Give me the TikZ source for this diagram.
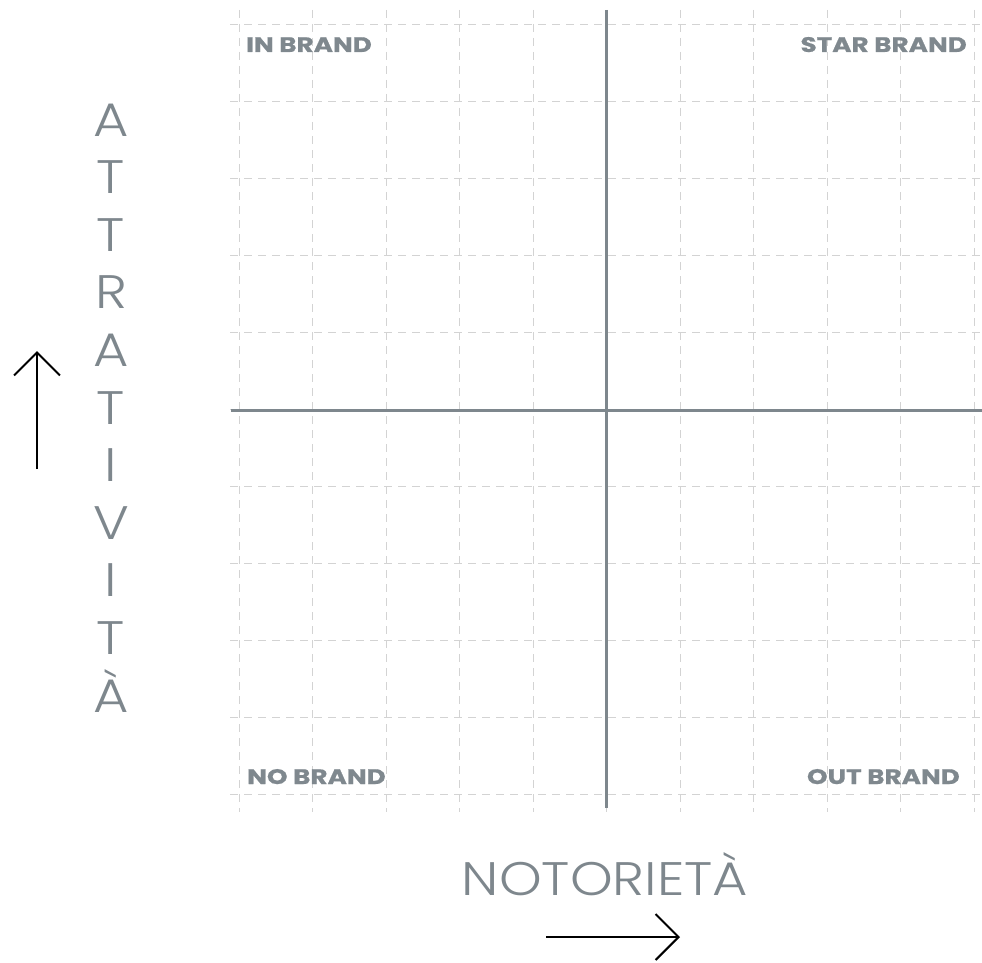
\documentclass[tikz,border=0pt]{standalone}
\usepackage{fontspec}
\setmainfont{Poppins}
\newfontfamily\labelfont{Poppins}[FakeStretch=1.25, BoldFeatures={FakeBold=0.8}]
\IfFontExistsTF{Poppins Light}
  {\newfontfamily\bigfont{Poppins Light}[FakeStretch=1.155]}
  {\newfontfamily\bigfont{Poppins}[FakeStretch=1.155]}
\usetikzlibrary{arrows.meta}
\definecolor{axisgray}{HTML}{7E878D}
\definecolor{gridgray}{HTML}{D3D3D3}
\definecolor{labelgray}{HTML}{7F888E}
\tikzset{
  gridline/.style={draw=gridgray, line width=1pt, dash pattern=on 8pt off 6pt},
  mainaxis/.style={draw=axisgray, line width=3pt},
  quadlabel/.style={text=labelgray, font=\labelfont\fontsize{21}{21}\selectfont\bfseries, inner sep=0pt},
  biglabel/.style={text=axisgray, font=\bigfont\fontsize{47}{47}\selectfont, inner sep=0pt},
  dirarrow/.style={draw=black, line width=2pt, -{Straight Barb[length=23pt, width=46pt, line width=2pt]}}
}
\begin{document}
\begin{tikzpicture}[x=1pt,y=-1pt]
\useasboundingbox (0,0) rectangle (982,963);
% grid
\foreach \i in {0,...,10} {
  \draw[gridline] ({239+73.5*\i},10) -- ({239+73.5*\i},812);
  \draw[gridline] (230,{25+76.9*\i}) -- (982,{25+76.9*\i});
}
% main axes
\coordinate (vtop) at (606,10);
\coordinate (vbot) at (606,808);
\coordinate (hleft) at (231,410);
\coordinate (hright) at (982,410);
\draw[mainaxis] (vtop) -- (vbot);
\draw[mainaxis] (hleft) -- (hright);
% quadrant labels
\node[quadlabel, anchor=base west] (inb) at (246,52) {IN BRAND};
\node[quadlabel, anchor=base east] (starb) at (967,52) {STAR BRAND};
\node[quadlabel, anchor=base west] (nob) at (247,784) {NO BRAND};
\node[quadlabel, anchor=base east] (outb) at (960,784) {OUT BRAND};
% vertical axis title
\foreach \ch [count=\k from 0] in {A,T,T,R,A,T,I,V,I,T,À} {
  \node[biglabel, anchor=base] (att\k) at (111,{136+57.6*\k}) {\ch};
}
% horizontal axis title
\node[biglabel, anchor=base] (noto) at (605,895) {NOTORIETÀ};
% direction arrows
\coordinate (upstart) at (37,469);
\coordinate (upend) at (37,351);
\draw[dirarrow] (upstart) -- (upend);
\coordinate (rstart) at (546,937);
\coordinate (rend) at (680,937);
\draw[dirarrow] (rstart) -- (rend);
\end{tikzpicture}
\end{document}
